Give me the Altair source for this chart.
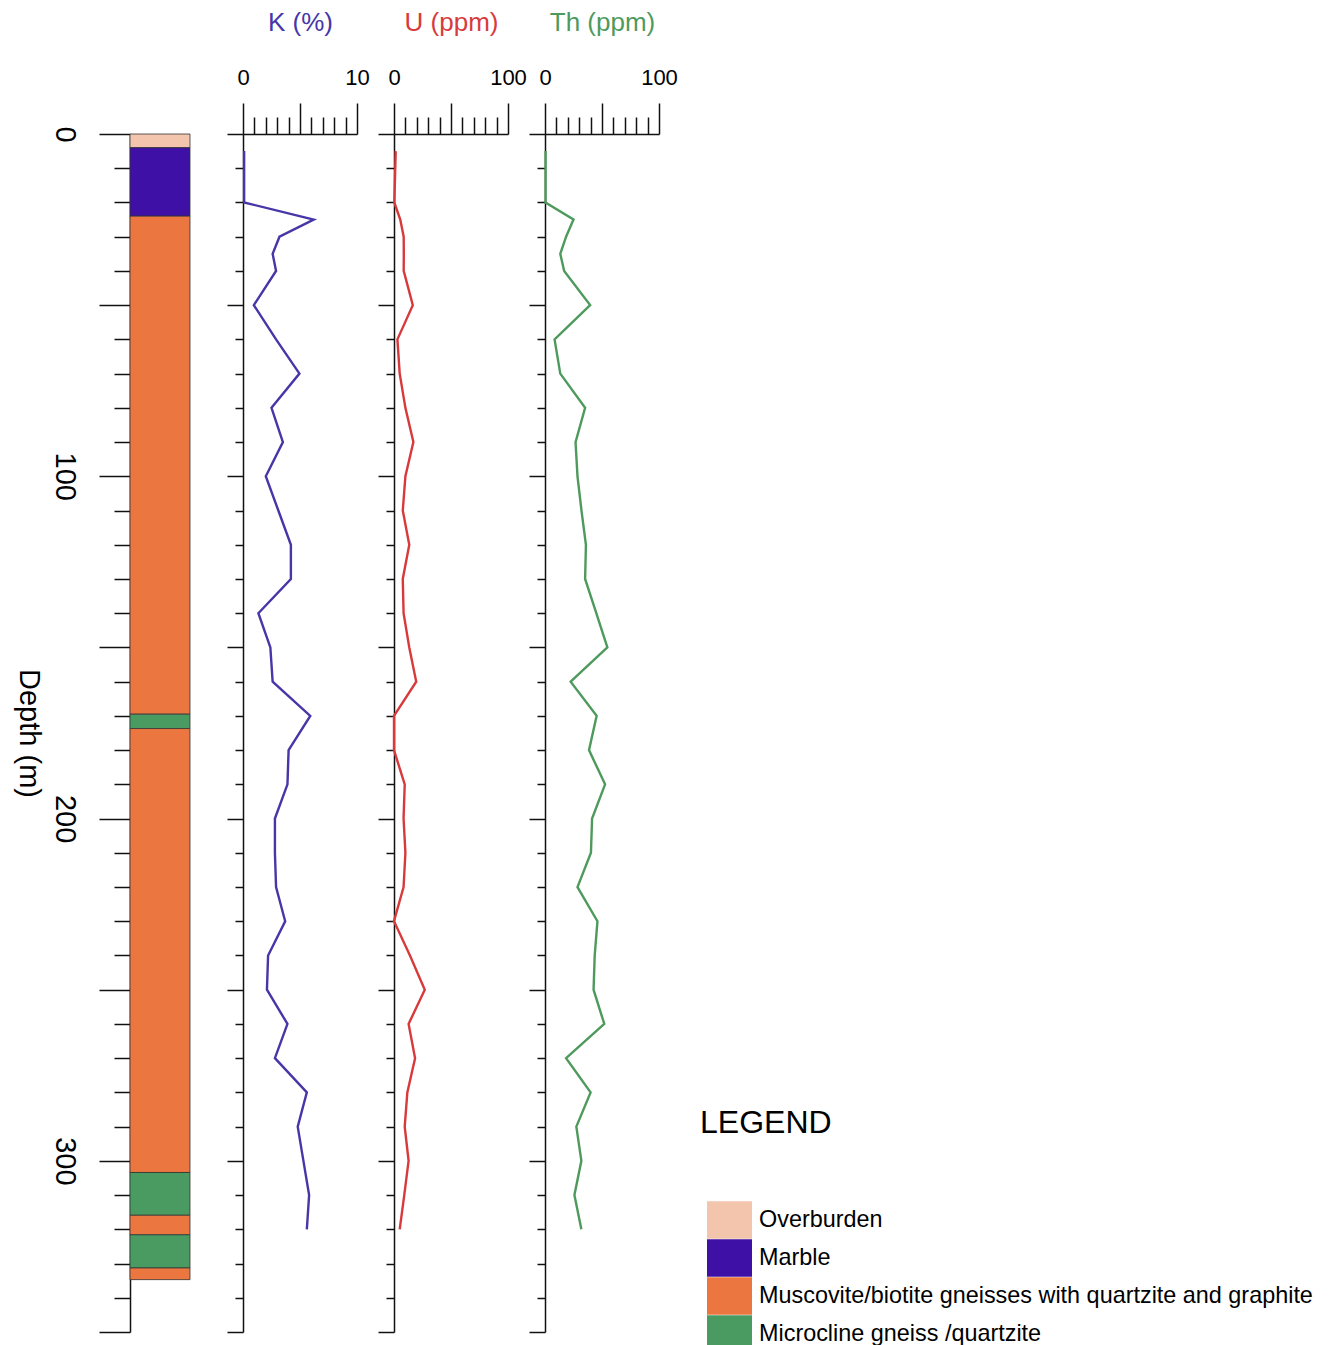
import altair as alt
import pandas as pd

# ---------------- data ----------------
depth = [5, 20, 25, 30, 35, 40, 50, 60, 70, 80, 90, 100, 110, 120, 130, 140, 150, 160,
         170, 180, 190, 200, 210, 220, 230, 240, 250, 260, 270, 280, 290, 300, 310, 320]
k_pct = [0.1, 0.1, 6.2, 3.2, 2.6, 2.9, 0.95, 2.9, 4.95, 2.5, 3.5, 2.0, 3.1, 4.2, 4.2, 1.35, 2.4, 2.6,
         5.9, 4.0, 3.9, 2.8, 2.8, 2.9, 3.7, 2.2, 2.1, 3.9, 2.8, 5.6, 4.8, 5.3, 5.8, 5.6]
u_ppm = [1.5, 0.3, 5.5, 8.5, 8.6, 8.5, 16.5, 3.0, 5.0, 10.0, 17.0, 10.0, 7.7, 13.4, 7.7, 8.4, 13.4, 19.5,
         0.0, 0.0, 9.4, 8.4, 10.0, 8.4, 0.0, 14.0, 27.0, 12.8, 18.5, 11.7, 9.4, 12.8, 9.0, 5.0]
th_ppm = [0.5, 0.5, 25.0, 18.5, 13.4, 16.8, 39.6, 8.4, 13.4, 35.2, 26.8, 28.5, 32.0, 35.9, 35.2, 45.0, 54.7, 22.5,
          45.3, 38.6, 52.7, 41.3, 40.3, 28.5, 46.0, 43.6, 42.6, 52.0, 18.5, 40.0, 27.5, 31.9, 25.8, 31.9]

units = ["Overburden", "Marble",
         "Muscovite/biotite gneisses with quartzite and graphite",
         "Microcline gneiss /quartzite"]
unit_colors = ["#F3C5AD", "#3F10A6", "#EC763F", "#4A9B62"]

layer_top = [0, 4, 24, 169.5, 173.7, 303.4, 315.9, 321.6, 331.3]
layer_bottom = [4, 24, 169.5, 173.7, 303.4, 315.9, 321.6, 331.3, 334.7]
layer_unit = [units[0], units[1], units[2], units[3], units[2], units[3], units[2], units[3], units[2]]

depth_ticks = list(range(0, 351, 10))

# ---------------- frames ----------------
logs = pd.DataFrame({"depth": depth, "K": k_pct, "U": u_ppm, "Th": th_ppm})
litho = pd.DataFrame({"top": layer_top, "bottom": layer_bottom, "unit": layer_unit})

FONT = "Liberation Sans"
H = 1198
yscale = alt.Scale(domain=[0, 350], reverse=True, nice=False, zero=False)

litho_chart = alt.Chart(litho).mark_rect(stroke="#333333", strokeWidth=0.8).encode(
    y=alt.Y("top:Q", scale=yscale,
            axis=alt.Axis(values=depth_ticks,
                          labelExpr="datum.value % 100 === 0 && datum.value < 350 ? datum.label : ''",
                          tickSize={"condition": {"test": "datum.value % 50 === 0", "value": 31}, "value": 16},
                          labelAngle=90, labelAlign="center", labelBaseline="top",
                          labelFontSize=29, labelPadding=21, labelColor="black", labelOverlap=False,
                          title="Depth (m)", titleAngle=90, titleBaseline="top",
                          titleFontSize=29, titleFontWeight="normal", titleColor="black",
                          titlePadding=7, domainColor="#111111", domainWidth=1.5,
                          tickColor="#111111", tickWidth=1.5, grid=False)),
    y2="bottom:Q",
    color=alt.Color("unit:N",
                    scale=alt.Scale(domain=units, range=unit_colors),
                    legend=alt.Legend(title="LEGEND", orient="none", legendX=570, legendY=974,
                                      titleFontSize=32, titleFontWeight="normal", titleColor="black",
                                      titlePadding=64, labelFontSize=23.4, labelColor="black",
                                      symbolType="M-0.5625,-1.172L2.25,-1.172L2.25,1.172L-0.5625,1.172Z",
                                      symbolSize=1024, symbolStrokeWidth=0,
                                      symbolOpacity=1, rowPadding=0,
                                      labelOffset=27, labelLimit=1000, padding=0)),
).properties(width=60, height=H)


def track(field, maxv, title, color):
    step = maxv / 10
    vals = [round(i * step, 6) for i in range(11)]
    return alt.Chart(logs).mark_line(color=color, strokeWidth=2.4).encode(
        x=alt.X(f"{field}:Q", scale=alt.Scale(domain=[0, maxv], nice=False, zero=False),
                axis=alt.Axis(orient="top", values=vals,
                              labelExpr=f"datum.value == 0 || datum.value == {maxv} ? datum.label : ''",
                              tickSize={"condition": {"test": f"datum.value % {maxv / 2} === 0", "value": 31},
                                        "value": 17},
                              labelFontSize=22, labelPadding=14, labelColor="black", labelFlush=False,
                              labelOverlap=False,
                              title=title, titleColor=color, titleFontSize=26, titleFontWeight="normal",
                              titlePadding=31, domainColor="#111111", domainWidth=1.5,
                              tickColor="#111111", tickWidth=1.5, grid=False)),
        y=alt.Y("depth:Q", scale=yscale,
                axis=alt.Axis(values=depth_ticks, labels=False, title="",
                              tickSize={"condition": {"test": "datum.value % 50 === 0", "value": 16},
                                        "value": 8},
                              domainColor="#111111", domainWidth=1.5, tickColor="#111111",
                              tickWidth=1.5, grid=False)),
        order=alt.Order("depth:Q"),
    ).properties(width=114, height=H)


k_chart = track("K", 10, "K (%)", "#4636A8")
u_chart = track("U", 100, "U (ppm)", "#D83A3C")
th_chart = track("Th", 100, "Th (ppm)", "#4E9A5C")

tracks = alt.hconcat(k_chart, u_chart, th_chart, spacing=37, bounds="flush")

chart = alt.hconcat(litho_chart, tracks, spacing=53, bounds="flush").properties(
    padding={"left": 5, "top": 1, "right": 5, "bottom": 0}
).configure(font=FONT).configure_view(strokeWidth=0)

chart.save("out.html", embed_options={"renderer": "svg", "actions": False})
